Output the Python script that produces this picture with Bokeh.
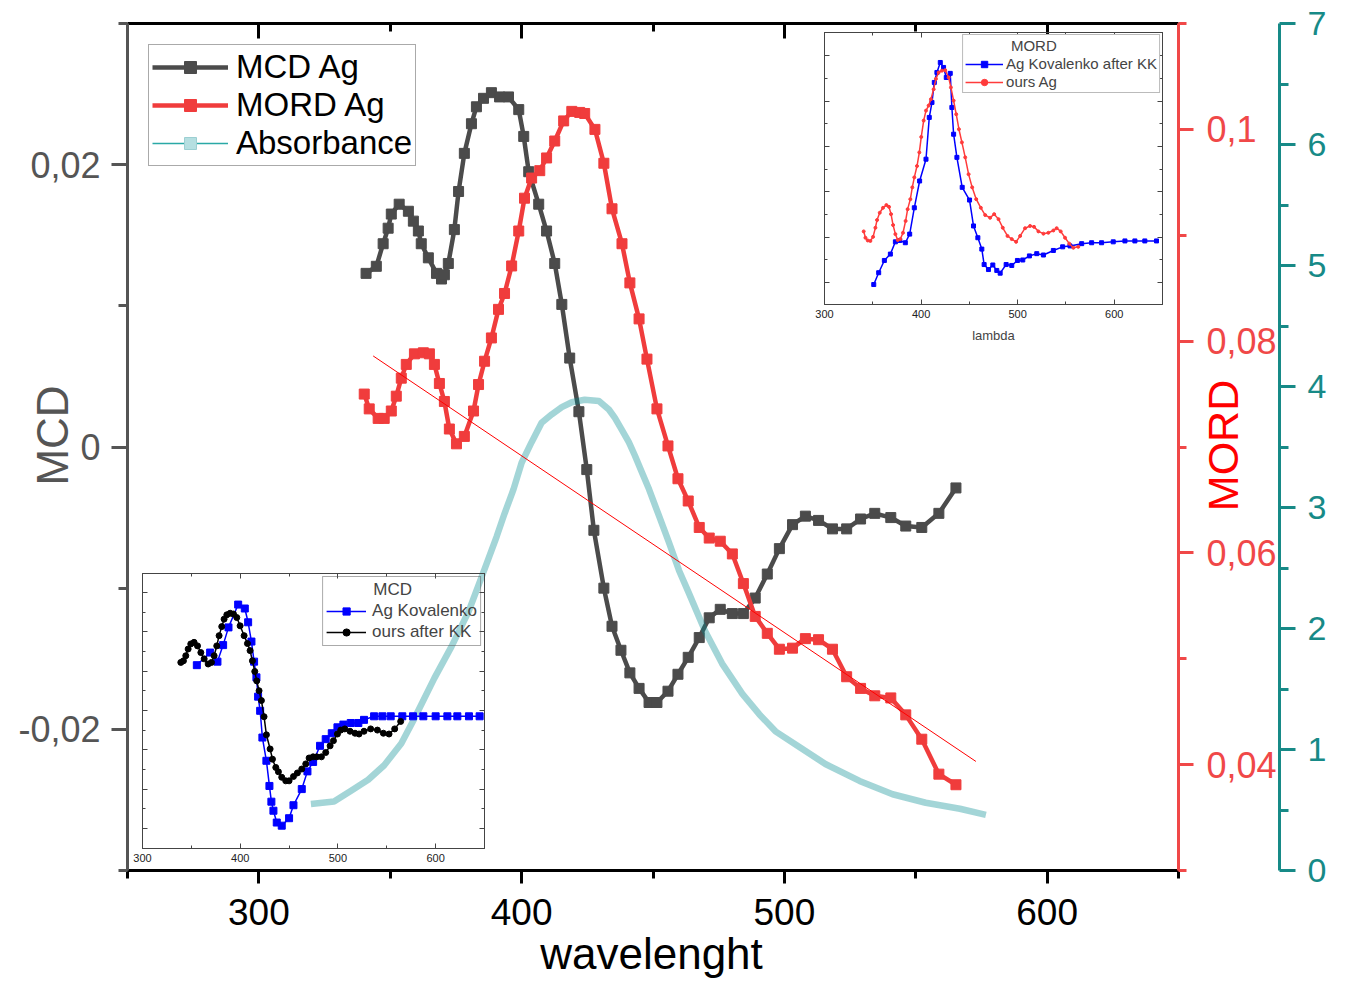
import math
import numpy as np
from bokeh.plotting import figure
from bokeh.models import (Range1d, LinearAxis, FixedTicker, CustomJSTickFormatter,
                          Legend, LegendItem, Label)
from bokeh.layouts import column
from bokeh.embed import file_html
from bokeh.resources import INLINE

FONT = "Liberation Sans"

# ---------------- main chart data ----------------
mcd_wl = [340.8, 344.7, 347.3, 349.2, 350.4, 353.4, 356.9, 358.8, 360.7, 361.8, 364.5, 367.6, 369.5,
          370.6, 372.1, 374.4, 376.0, 378.2, 380.9, 382.8, 385.5, 388.5, 391.6, 395.0, 398.9, 400.8,
          402.7, 406.5, 409.5, 412.6, 415.3, 418.3, 421.8, 424.8, 427.5, 431.3, 434.4, 437.8, 441.2,
          444.7, 448.5, 451.5, 455.7, 459.5, 463.4, 467.6, 471.4, 475.6, 480.2, 484.4, 488.9, 493.5,
          498.1, 503.1, 508.0, 513.0, 518.3, 523.7, 529.0, 534.4, 540.5, 546.2, 552.3, 558.8, 565.3]
mcd_val = [0.0123, 0.0128, 0.0144, 0.0155, 0.0165, 0.0172, 0.0167, 0.0160, 0.0153, 0.0144, 0.0134,
           0.0123, 0.0119, 0.0122, 0.0130, 0.0154, 0.0181, 0.0208, 0.0229, 0.0241, 0.0247, 0.0251,
           0.0248, 0.0248, 0.0239, 0.0220, 0.0195, 0.0172, 0.0153, 0.0130, 0.0101, 0.0063, 0.0025,
           -0.0016, -0.0059, -0.0100, -0.0127, -0.0144, -0.0160, -0.0171, -0.0181, -0.0181, -0.0173,
           -0.0161, -0.0149, -0.0135, -0.0121, -0.0115, -0.0118, -0.0118, -0.0107, -0.0090, -0.0072,
           -0.0055, -0.0049, -0.0052, -0.0058, -0.0058, -0.0051, -0.0047, -0.0050, -0.0056, -0.0057,
           -0.0047, -0.0029]

mord_wl = [340.1, 342.0, 345.4, 347.7, 350.4, 352.3, 354.2, 356.1, 359.2, 362.6, 364.9, 366.8, 368.7,
           370.6, 372.5, 375.2, 378.2, 381.7, 383.6, 385.9, 388.5, 391.2, 393.5, 396.2, 398.9, 401.1,
           403.8, 406.9, 409.5, 412.6, 416.0, 419.1, 422.1, 424.0, 427.9, 431.3, 434.4, 438.2, 441.2,
           444.7, 447.7, 451.5, 455.7, 459.5, 463.4, 467.6, 471.4, 475.6, 480.2, 484.4, 488.9, 493.5,
           498.1, 503.1, 508.0, 513.0, 518.3, 523.7, 529.0, 534.4, 540.5, 546.2, 552.3, 558.8, 565.3]
mord_val = [0.0750, 0.0736, 0.0727, 0.0727, 0.0734, 0.0748, 0.0765, 0.0778, 0.0788, 0.0789, 0.0788,
            0.0778, 0.0760, 0.0743, 0.0717, 0.0703, 0.0710, 0.0734, 0.0759, 0.0781, 0.0803, 0.0830,
            0.0845, 0.0871, 0.0904, 0.0935, 0.0954, 0.0961, 0.0973, 0.0989, 0.1008, 0.1017, 0.1016,
            0.1015, 0.1000, 0.0968, 0.0925, 0.0892, 0.0855, 0.0821, 0.0783, 0.0736, 0.0701, 0.0670,
            0.0649, 0.0624, 0.0614, 0.0611, 0.0599, 0.0571, 0.0540, 0.0524, 0.0509, 0.0510, 0.0519,
            0.0518, 0.0509, 0.0483, 0.0472, 0.0465, 0.0463, 0.0447, 0.0424, 0.0391, 0.0381]

abs_wl = [319.8, 328.6, 335.1, 341.6, 347.7, 354.2, 358.8, 366.8, 373.3, 379.8, 385.9, 390.5, 393.5,
          396.9, 400.0, 403.8, 407.6, 411.5, 415.3, 419.1, 424.0, 429.4, 433.2, 435.5, 438.2, 440.8,
          443.1, 445.8, 448.5, 452.3, 456.1, 459.9, 463.7, 469.8, 476.3, 484.0, 490.5, 496.6, 505.7,
          515.6, 528.6, 541.2, 553.8, 566.8, 576.7]
abs_val = [0.55, 0.57, 0.66, 0.75, 0.87, 1.05, 1.24, 1.59, 1.85, 2.14, 2.49, 2.76, 2.95, 3.15, 3.37,
           3.54, 3.70, 3.77, 3.83, 3.87, 3.89, 3.88, 3.81, 3.74, 3.64, 3.54, 3.43, 3.29, 3.15, 2.93,
           2.71, 2.48, 2.29, 1.98, 1.71, 1.46, 1.29, 1.15, 1.02, 0.88, 0.74, 0.63, 0.56, 0.51, 0.46]

# linear fit line through MORD (end points)
fit_wl = [343.5, 572.9]
fit_val = [0.0786, 0.0403]

x_major = [300, 400, 500, 600]
x_minor = [250, 350, 450, 550, 650]
mcd_ticks = [-0.02, 0, 0.02]
mcd_minor = [-0.03, -0.01, 0.01, 0.03]
mord_ticks = [0.04, 0.06, 0.08, 0.1]
mord_minor = [0.03, 0.05, 0.07, 0.09, 0.11]
abs_ticks = [0, 1, 2, 3, 4, 5, 6, 7]
abs_minor = [0.5, 1.5, 2.5, 3.5, 4.5, 5.5, 6.5]

# ---------------- inset data ----------------
in_x_major = [300, 400, 500, 600]
in_x_minor = [350, 450, 550, 650]

kov_mcd_wl = [355.6, 369.2, 376.7, 382.5, 388.0, 397.9, 404.7, 408.1, 411.5, 414.2, 416.6, 418.3,
              420.4, 422.7, 426.8, 429.9, 431.9, 434.0, 437.4, 442.5, 450.0, 454.5, 463.0, 468.8,
              474.6, 481.7, 487.5, 493.7, 499.5, 505.6, 513.1, 520.9, 526.7, 537.0, 545.5, 554.0,
              565.9, 576.8, 587.4, 600.0, 612.0, 622.2, 634.1, 645.0]
kov_mcd_val = [4.15, 4.47, 4.24, 4.66, 5.11, 5.69, 5.59, 5.24, 4.75, 4.24, 3.84, 3.35, 2.99, 2.31,
               1.72, 1.08, 0.68, 0.45, 0.15, 0.07, 0.26, 0.59, 1.00, 1.45, 1.69, 2.10, 2.27, 2.42,
               2.57, 2.64, 2.68, 2.68, 2.76, 2.85, 2.85, 2.85, 2.85, 2.85, 2.85, 2.85, 2.85, 2.85,
               2.85, 2.85]

ours_mcd_wl = [339.2, 341.9, 344.3, 346.7, 349.4, 352.8, 356.3, 359.7, 363.1, 367.2, 370.6, 373.3,
               376.0, 378.4, 381.1, 383.5, 386.3, 389.7, 393.1, 396.5, 399.9, 404.0, 407.4, 410.1,
               412.5, 414.9, 416.9, 419.3, 421.7, 424.4, 426.8, 430.6, 433.0, 436.4, 439.1, 442.5,
               446.6, 450.0, 454.5, 458.5, 463.0, 467.1, 470.5, 474.6, 478.3, 483.1, 487.5, 492.0,
               495.4, 499.5, 502.9, 507.0, 512.4, 517.5, 521.6, 526.7, 533.5, 540.4, 546.5, 552.3,
               558.1, 564.2]
ours_mcd_val = [4.22, 4.26, 4.39, 4.56, 4.69, 4.73, 4.64, 4.47, 4.31, 4.18, 4.22, 4.39, 4.64, 4.90,
                5.13, 5.32, 5.43, 5.47, 5.45, 5.36, 5.15, 4.90, 4.70, 4.52, 4.26, 3.99, 3.75, 3.50,
                3.25, 2.84, 2.38, 2.02, 1.76, 1.55, 1.44, 1.30, 1.21, 1.21, 1.32, 1.41, 1.51, 1.64,
                1.79, 1.82, 1.82, 1.82, 1.93, 2.10, 2.23, 2.40, 2.50, 2.53, 2.47, 2.42, 2.40, 2.47,
                2.53, 2.50, 2.42, 2.40, 2.53, 2.72]

kov_mord_wl = [351.0, 356.1, 362.0, 368.2, 373.4, 377.9, 383.7, 388.2, 393.0, 398.5, 405.1, 408.5,
               411.3, 413.7, 416.4, 419.9, 423.3, 426.1, 430.2, 431.9, 433.7, 437.1, 442.6, 450.2,
               454.3, 458.8, 462.9, 465.3, 469.8, 474.3, 478.4, 481.9, 488.1, 493.9, 499.8, 505.3,
               512.2, 519.8, 526.7, 537.0, 546.6, 554.2, 566.3, 576.6, 586.9, 599.0, 611.1, 621.4,
               631.7, 643.8]
kov_mord_val = [-0.04, 0.22, 0.49, 0.63, 0.90, 0.93, 0.88, 1.07, 1.65, 2.24, 2.72, 3.64, 3.97, 4.41,
                4.63, 4.85, 4.74, 4.52, 4.61, 3.86, 3.27, 2.76, 2.10, 1.82, 1.25, 0.99, 0.74, 0.40,
                0.29, 0.39, 0.27, 0.21, 0.40, 0.38, 0.49, 0.50, 0.59, 0.64, 0.61, 0.71, 0.79, 0.81,
                0.86, 0.88, 0.88, 0.90, 0.92, 0.92, 0.92, 0.92]

ours_mord_wl = [340.6, 342.4, 344.8, 347.5, 350.3, 352.7, 354.4, 357.2, 360.6, 364.1, 366.8, 368.9,
                371.0, 373.4, 375.8, 378.5, 381.3, 384.0, 386.1, 388.9, 390.9, 393.0, 395.8, 398.2,
                400.2, 402.7, 405.1, 407.8, 410.2, 413.0, 415.4, 418.2, 421.6, 425.0, 428.5, 430.9,
                433.7, 436.4, 439.2, 442.3, 445.7, 449.2, 452.9, 457.1, 461.9, 466.4, 471.5, 475.7,
                480.2, 484.6, 489.5, 493.9, 498.4, 502.6, 507.7, 512.9, 517.0, 521.5, 526.7, 531.8,
                537.0, 540.4, 544.6, 549.1, 553.5, 557.7, 562.8]
ours_mord_val = [1.13, 0.99, 0.93, 0.92, 1.01, 1.21, 1.38, 1.54, 1.65, 1.71, 1.67, 1.51, 1.27, 1.07,
                 0.94, 0.96, 1.10, 1.36, 1.62, 1.84, 2.10, 2.32, 2.57, 2.87, 3.21, 3.57, 3.79, 3.90,
                 4.04, 4.26, 4.49, 4.63, 4.67, 4.68, 4.52, 4.30, 4.01, 3.71, 3.38, 3.09, 2.76, 2.39,
                 2.10, 1.84, 1.65, 1.49, 1.43, 1.51, 1.40, 1.21, 1.03, 0.96, 0.90, 1.03, 1.20, 1.25,
                 1.23, 1.13, 1.08, 1.10, 1.15, 1.20, 1.13, 0.99, 0.86, 0.77, 0.79]

in1_y_major = [0, 1, 2, 3, 4, 5, 6]
in1_y_minor = [0.5, 1.5, 2.5, 3.5, 4.5, 5.5]
in2_y_major = [0, 1, 2, 3, 4, 5]
in2_y_minor = [-0.5, 0.5, 1.5, 2.5, 3.5, 4.5, 5.5]

COMMA = CustomJSTickFormatter(code="""
if (Math.abs(tick) < 1e-12) { return "0"; }
return String(Math.round(tick * 1000) / 1000).replace(".", ",");
""")
BLANK = CustomJSTickFormatter(code="return '';")

GRAY = "#4b4b4b"
RED = "#f03c3c"
TEAL = "#178a87"
W, H = 1345, 981
NBSP = "\u00a0"

# ---------------- main figure ----------------
p = figure(width=W, height=H, x_range=Range1d(250, 650), y_range=Range1d(-0.03, 0.03),
           output_backend="svg", toolbar_location=None,
           x_axis_location=None, y_axis_location=None,
           min_border_left=127, min_border_right=167, min_border_top=23, min_border_bottom=111,
           outline_line_color=None, background_fill_color="white", border_fill_color="white")
p.frame_align = False
p.extra_y_ranges = {"mord": Range1d(0.03, 0.11), "abs": Range1d(0, 7)}
p.grid.visible = False


def style_axis(ax, color, out_major, out_minor, in_major=0, in_minor=0, width=3):
    ax.axis_line_color = color
    ax.axis_line_width = width
    ax.major_tick_line_color = color
    ax.major_tick_line_width = width
    ax.minor_tick_line_color = color
    ax.minor_tick_line_width = width
    ax.major_tick_out = out_major
    ax.major_tick_in = in_major
    ax.minor_tick_out = out_minor
    ax.minor_tick_in = in_minor


xb = LinearAxis(ticker=FixedTicker(ticks=x_major, minor_ticks=x_minor))
style_axis(xb, "black", 13, 8)
xb.major_label_text_font = FONT
xb.major_label_text_font_size = "37px"
xb.major_label_text_color = "black"
xb.major_label_standoff = 15
p.add_layout(xb, "below")

xt = LinearAxis(ticker=FixedTicker(ticks=x_major, minor_ticks=x_minor), formatter=BLANK)
style_axis(xt, "black", 0, 0, in_major=15, in_minor=8)
xt.major_label_text_font_size = "1px"
xt.major_label_standoff = 0
p.add_layout(xt, "above")

yl = LinearAxis(ticker=FixedTicker(ticks=mcd_ticks, minor_ticks=mcd_minor), formatter=COMMA)
style_axis(yl, "#555555", 16, 9)
yl.major_label_text_font = FONT
yl.major_label_text_font_size = "36px"
yl.major_label_text_color = "#555555"
yl.major_label_standoff = 11
p.add_layout(yl, "left")

yr = LinearAxis(y_range_name="mord", ticker=FixedTicker(ticks=mord_ticks, minor_ticks=mord_minor),
                formatter=COMMA)
style_axis(yr, "#f04848", 15, 8)
yr.major_label_text_font = FONT
yr.major_label_text_font_size = "36px"
yr.major_label_text_color = "#f04848"
yr.major_label_standoff = 13
p.add_layout(yr, "right")

ya = LinearAxis(y_range_name="abs", ticker=FixedTicker(ticks=abs_ticks, minor_ticks=abs_minor))
style_axis(ya, TEAL, 16, 9)
ya.major_label_text_font = FONT
ya.major_label_text_font_size = "34px"
ya.major_label_text_color = TEAL
ya.major_label_standoff = 12
p.add_layout(ya, "right")

mcd_line = p.line(mcd_wl, mcd_val, line_width=4.5, color=GRAY)
mcd_pts = p.scatter(mcd_wl, mcd_val, marker="square", size=10, color=GRAY)
mord_line = p.line(mord_wl, mord_val, y_range_name="mord", line_width=4.5, color=RED)
mord_pts = p.scatter(mord_wl, mord_val, y_range_name="mord", marker="square", size=10, color=RED)
abs_band = p.line(abs_wl, abs_val, y_range_name="abs", line_width=6.5, color="#008b91",
                  alpha=0.36, line_join="round")
fit_line = p.line(fit_wl, fit_val, y_range_name="mord", line_width=1, color="#ff0000")

# legend-only glyphs for the absorbance entry (single NaN point, never drawn)
nan1 = np.array([np.nan])
abs_leg_line = p.line(x=nan1, y=nan1, y_range_name="abs", line_width=1.5, color="#2aa9a6")
abs_leg_pt = p.scatter(x=nan1, y=nan1, y_range_name="abs", marker="square", size=8,
                       fill_color="#b5dfe1", line_color="#9ccfd2")

leg = Legend(items=[LegendItem(label="MCD Ag", renderers=[mcd_line, mcd_pts]),
                    LegendItem(label="MORD Ag", renderers=[mord_line, mord_pts]),
                    LegendItem(label="Absorbance", renderers=[abs_leg_line, abs_leg_pt])],
             location="top_left", margin=21, padding=3, spacing=0,
             label_text_font=FONT, label_text_font_size="33px", label_text_color="black",
             glyph_width=76, glyph_height=30, label_height=34, label_standoff=8,
             border_line_color="#555555", border_line_width=1,
             background_fill_color="white", background_fill_alpha=1.0)
p.add_layout(leg)


# ---------------- insets ----------------
def make_inset(width, height, yr_, y_major, y_minor, borders, xlabel=None):
    f = figure(width=width, height=height, x_range=Range1d(300, 650), y_range=yr_,
               output_backend="svg", toolbar_location=None,
               x_axis_location=None, y_axis_location=None,
               min_border_left=borders[0], min_border_right=borders[1],
               min_border_top=borders[2], min_border_bottom=borders[3],
               background_fill_color=None, border_fill_color=None,
               outline_line_color="#444444", outline_line_width=1)
    f.frame_align = False
    f.grid.visible = False
    bx = LinearAxis(ticker=FixedTicker(ticks=in_x_major, minor_ticks=in_x_minor))
    style_axis(bx, "#444444", 0, 0, in_major=5, in_minor=3, width=1)
    bx.major_label_text_font = FONT
    bx.major_label_text_font_size = "11px"
    bx.major_label_text_color = "#222222"
    bx.major_label_standoff = 5
    if xlabel:
        bx.axis_label = xlabel
        bx.axis_label_text_font = FONT
        bx.axis_label_text_font_size = "13px"
        bx.axis_label_text_font_style = "normal"
        bx.axis_label_standoff = 7
    f.add_layout(bx, "below")
    tx = LinearAxis(ticker=FixedTicker(ticks=in_x_major, minor_ticks=in_x_minor), formatter=BLANK)
    style_axis(tx, "#444444", 0, 0, in_major=5, in_minor=3, width=1)
    tx.major_label_text_font_size = "1px"
    tx.major_label_standoff = 0
    f.add_layout(tx, "above")
    for side in ("left", "right"):
        ax = LinearAxis(ticker=FixedTicker(ticks=y_major, minor_ticks=y_minor), formatter=BLANK)
        style_axis(ax, "#444444", 0, 0, in_major=5, in_minor=3, width=1)
        ax.major_label_text_font_size = "1px"
        ax.major_label_standoff = 0
        f.add_layout(ax, side)
    return f


i1 = make_inset(362, 310, Range1d(-0.51, 6.48), in1_y_major, in1_y_minor, (10, 10, 10, 25))
kl = i1.line(kov_mcd_wl, kov_mcd_val, color="#0000ff", line_width=1.5)
kp = i1.scatter(kov_mcd_wl, kov_mcd_val, marker="square", size=7, color="#0000ff")
ol = i1.line(ours_mcd_wl, ours_mcd_val, color="black", line_width=1.5)
op = i1.scatter(ours_mcd_wl, ours_mcd_val, marker="circle", size=6, color="black")
leg1 = Legend(items=[LegendItem(label="Ag Kovalenko", renderers=[kl, kp]),
                     LegendItem(label="ours after KK", renderers=[ol, op])],
              title=NBSP * 10 + "MCD", title_text_font=FONT, title_text_font_size="17px",
              title_text_font_style="normal", title_standoff=1,
              location="top_right", margin=3, padding=3, spacing=1,
              label_text_font=FONT, label_text_font_size="17px",
              glyph_width=40, glyph_height=18, label_height=20, label_standoff=6,
              border_line_color="#555555", border_line_width=1,
              background_fill_alpha=0.0)
i1.add_layout(leg1)

i2 = make_inset(358, 331, Range1d(-0.48, 5.51), in2_y_major, in2_y_minor, (10, 10, 9, 50),
                xlabel="lambda")
bl = i2.line(kov_mord_wl, kov_mord_val, color="#0000ff", line_width=1.5)
bp = i2.scatter(kov_mord_wl, kov_mord_val, marker="square", size=4, color="#0000ff")
rl = i2.line(ours_mord_wl, ours_mord_val, color="#ff3b3b", line_width=1.5)
rp = i2.scatter(ours_mord_wl, ours_mord_val, marker="circle", size=3, color="#ff3b3b")
leg2 = Legend(items=[LegendItem(label="Ag Kovalenko after KK", renderers=[bl, bp]),
                     LegendItem(label="ours Ag", renderers=[rl, rp])],
              title=NBSP * 11 + "MORD", title_text_font=FONT, title_text_font_size="15px",
              title_text_font_style="normal", title_standoff=1,
              location="top_right", margin=2, padding=2, spacing=1,
              label_text_font=FONT, label_text_font_size="15px",
              glyph_width=38, glyph_height=16, label_height=17, label_standoff=3,
              border_line_color="#777777", border_line_width=1,
              background_fill_color="white", background_fill_alpha=1.0)
i2.add_layout(leg2)

# ---------------- transparent overlay carrying the axis titles ----------------
ov = figure(width=W, height=H, x_range=Range1d(0, W), y_range=Range1d(H, 0),
            output_backend="svg", toolbar_location=None,
            x_axis_location=None, y_axis_location=None,
            min_border_left=0, min_border_right=0, min_border_top=0, min_border_bottom=0,
            background_fill_color=None, border_fill_color=None, outline_line_color=None)
ov.frame_align = False
ov.grid.visible = False
ov.add_layout(Label(x=52, y=435, text="MCD", angle=math.pi / 2, text_align="center",
                    text_baseline="middle", text_font=FONT, text_font_size="44px",
                    text_color="#555555"))
ov.add_layout(Label(x=1222, y=445, text="MORD", angle=math.pi / 2, text_align="center",
                    text_baseline="middle", text_font=FONT, text_font_size="43px",
                    text_color="#ff0000"))
ov.add_layout(Label(x=651, y=953, text="wavelenght", text_align="center",
                    text_baseline="middle", text_font=FONT, text_font_size="44px",
                    text_color="black"))

# place insets and overlay over the main chart
i1.styles = {"position": "absolute", "left": "132px", "top": "563px",
             "width": "362px", "height": "310px"}
i2.styles = {"position": "absolute", "left": "814px", "top": "23px",
             "width": "358px", "height": "331px"}
ov.styles = {"position": "absolute", "left": "0px", "top": "0px",
             "width": f"{W}px", "height": f"{H}px"}

layout = column(p, i1, i2, ov)

open("out.html", "w").write(file_html(layout, INLINE))
